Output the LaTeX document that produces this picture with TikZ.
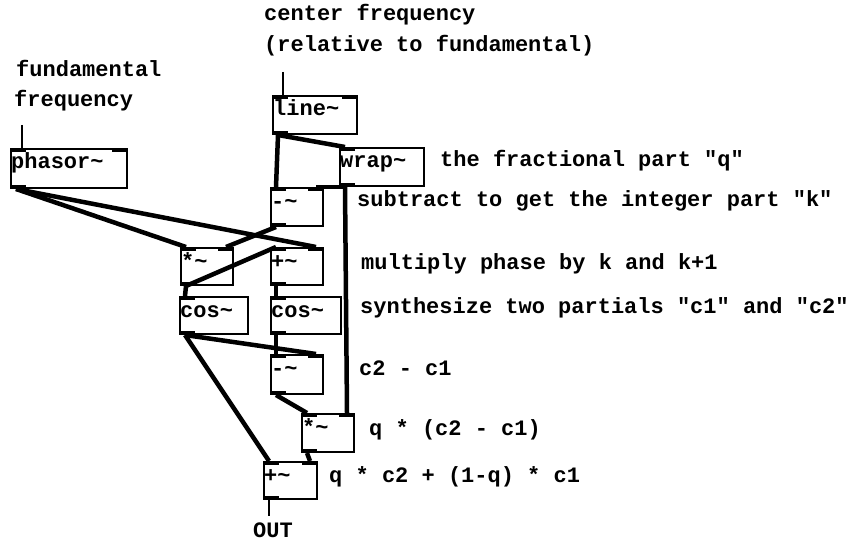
\documentclass[tikz,border=0pt]{standalone}
\usepackage{fontspec}
\newfontfamily\pdmono{Liberation Mono}
\newcommand{\pdfont}{\pdmono\bfseries\fontsize{22}{26}\selectfont}
\newcommand{\tl}{\textasciitilde}

\tikzset{
  pdbox/.style={draw,line width=2pt,anchor=north west,inner sep=0pt},
  pdtext/.style={anchor=base west,inner sep=0pt,font=\pdfont},
  comment/.style={anchor=base west,inner sep=0pt,font=\pdfont},
  sig/.style={line width=4.5pt},
  ctl/.style={line width=1.2pt},
  port/.style={fill=black}
}

% box: name, x, y, width, height, text
\newcommand{\pdobj}[6]{
  \node[pdbox,minimum width=#4,minimum height=#5] (#1) at (#2,#3) {};
  \node[pdtext] (#1-t) at ([shift={(1,21)}]#1.north west) {#6};
  \coordinate (#1-i1) at ([shift={(6,0)}]#1.north west);
  \coordinate (#1-i2) at ([shift={(-8,0)}]#1.north east);
  \coordinate (#1-o) at ([shift={(6,0)}]#1.south west);
  \fill[port] (#1.north west) rectangle ++(16,4);
  \fill[port] (#1.south west) rectangle ++(16,-4);
}
\newcommand{\rightin}[1]{
  \fill[port] ([xshift=-16]#1.north east) rectangle ++(16,4);
}

\begin{document}
\begin{tikzpicture}[x=1pt,y=-1pt]
\useasboundingbox (0,0) rectangle (859,540);

% objects
\pdobj{phasor}{10}{148}{116}{39}{phasor\tl}
\pdobj{line}{272}{95}{84}{38}{line\tl}
\pdobj{wrap}{339}{147}{84}{38}{wrap\tl}
\pdobj{subk}{270}{187}{52}{38}{-\tl}
\pdobj{mulk}{180}{247}{52}{37}{*\tl}
\pdobj{addk}{270}{247}{52}{37}{+\tl}
\pdobj{cosa}{179}{296}{68}{37}{cos\tl}
\pdobj{cosb}{270}{296}{70}{37}{cos\tl}
\pdobj{diff}{270}{354}{52}{39}{-\tl}
\pdobj{mulq}{301}{413}{52}{38}{*\tl}
\pdobj{mix}{263}{461}{53}{37}{+\tl}

\rightin{phasor}
\rightin{line}
\rightin{subk}
\rightin{mulk}
\rightin{addk}
\rightin{diff}
\rightin{mulq}
\rightin{mix}

% comments
\node[comment] (c-center) at (264,21) {center frequency};
\node[comment] (c-rel) at (264,52) {(relative to fundamental)};
\node[comment] (c-fund) at (16,77) {fundamental};
\node[comment] (c-freq) at (14,107) {frequency};
\node[comment] (c-q) at (440,167) {the fractional part "q"};
\node[comment] (c-k) at (357,207) {subtract to get the integer part "k"};
\node[comment] (c-mul) at (361,269) {multiply phase by k and k+1};
\node[comment] (c-syn) at (360,313) {synthesize two partials "c1" and "c2"};
\node[comment] (c-diff) at (359,375) {c2 - c1};
\node[comment] (c-qd) at (369,435) {q * (c2 - c1)};
\node[comment] (c-mix) at (329,482) {q * c2 + (1-q) * c1};
\node[comment,anchor=base] (OUT) at (273,537) {OUT};

% control inputs and output
\coordinate (fundin) at (22,125);
\coordinate (centin) at (283,72);
\coordinate (outend) at (269,516);
\draw[ctl] (fundin) -- (fundin |- phasor.north);
\draw[ctl] (centin) -- (centin |- line.north);
\draw[ctl] (mix-o) -- (outend);

% signal connections
\draw[sig] (phasor-o) -- (mulk-i1);
\draw[sig] (phasor-o) -- (addk-i2);
\draw[sig] (line-o) -- (subk-i1);
\draw[sig] (line-o) -- (wrap-i1);
\draw[sig] (wrap-o) -- (subk-i2);
\draw[sig] (wrap-o) -- (mulq-i2);
\draw[sig] (subk-o) -- (mulk-i2);
\draw[sig] (mulk-o) -- (addk-i1);
\draw[sig] (mulk-o) -- (cosa-i1);
\draw[sig] (addk-o) -- (cosb-i1);
\draw[sig] (cosa-o) -- (diff-i2);
\draw[sig] (cosa-o) -- (mix-i1);
\draw[sig] (cosb-o) -- (diff-i1);
\draw[sig] (diff-o) -- (mulq-i1);
\draw[sig] (mulq-o) -- (mix-i2);

\end{tikzpicture}
\end{document}
